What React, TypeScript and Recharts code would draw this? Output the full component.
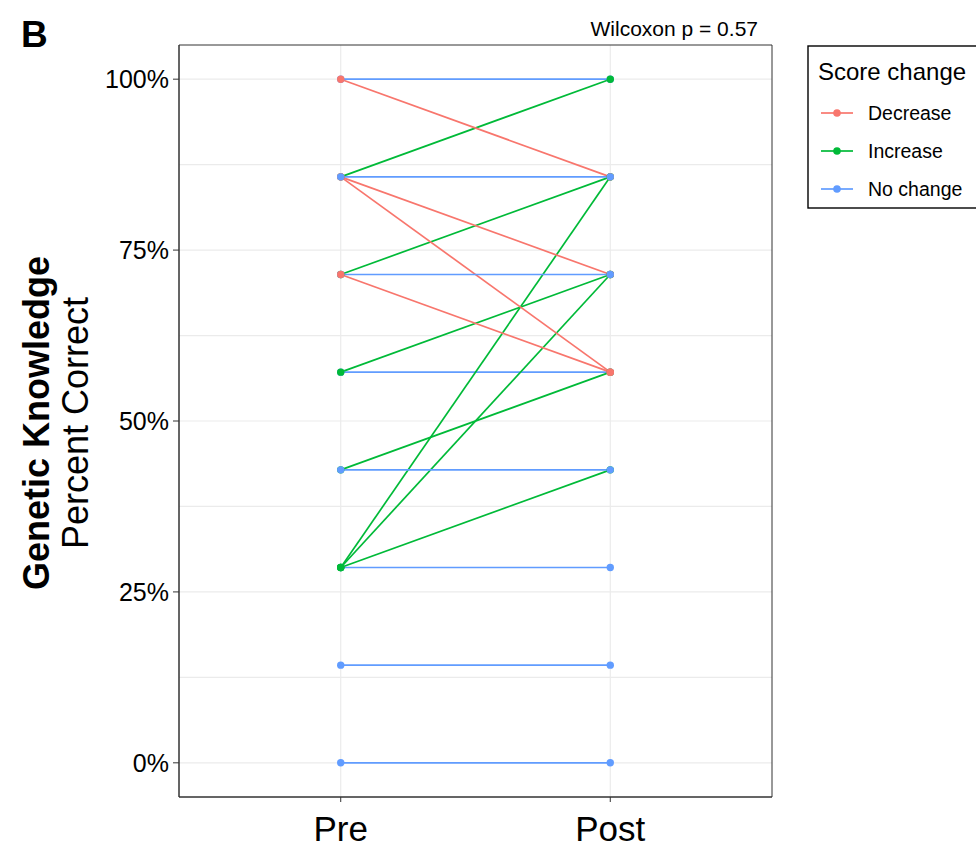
import { LineChart, Line, XAxis, YAxis, CartesianGrid, ReferenceArea } from 'recharts'

// Items answered correctly (out of 7) per participant path, Pre -> Post
const TOTAL_ITEMS = 7
const phaseLabels = ['Pre', 'Post']
const preCorrect = [7, 2, 4, 0, 1, 2, 2, 2, 3, 4, 6, 5, 7, 6, 6, 3, 5, 6, 5]
const postCorrect = [7, 2, 4, 0, 1, 3, 5, 6, 4, 5, 7, 6, 6, 5, 4, 3, 5, 6, 4]

const changeLabels = ['Decrease', 'Increase', 'No change']
const changeColors = ['#F8766D', '#00BA38', '#619CFF']

const yTicks = [0, 25, 50, 75, 100]
const yGrid = [0, 12.5, 25, 37.5, 50, 62.5, 75, 87.5, 100]
const pValueText = 'Wilcoxon p = 0.57'

const toPct = (n: number) => (n / TOTAL_ITEMS) * 100
const changeOf = (pre: number, post: number) => (post < pre ? 0 : post > pre ? 1 : 2)

const paths = preCorrect.map((pre, i) => {
  const post = postCorrect[i]
  return {
    id: `p${i}`,
    group: changeOf(pre, post),
    data: [
      { phase: 1, pct: toPct(pre) },
      { phase: 2, pct: toPct(post) },
    ],
  }
})

const FONT = '"Liberation Sans", Arial, Helvetica, sans-serif'

function YTitle() {
  return (
    <g>
      <text
        x={49}
        y={423}
        transform="rotate(-90 49 423)"
        textAnchor="middle"
        fontSize={36}
        fontWeight="bold"
        fill="#000"
      >
        Genetic Knowledge
      </text>
      <text
        x={88}
        y={423}
        transform="rotate(-90 88 423)"
        textAnchor="middle"
        fontSize={36}
        fill="#000"
      >
        Percent Correct
      </text>
    </g>
  )
}

export default function App() {
  return (
    <div
      style={{
        position: 'absolute',
        left: 0,
        top: 0,
        width: 976,
        height: 850,
        background: '#fff',
        fontFamily: FONT,
        overflow: 'hidden',
      }}
    >
      <LineChart
        width={976}
        height={850}
        margin={{ top: 45, right: 204, bottom: 0, left: 100 }}
      >
        <CartesianGrid
          stroke="#EBEBEB"
          strokeWidth={1.2}
          horizontalValues={yGrid}
          verticalValues={[1, 2]}
        />
        <XAxis
          dataKey="phase"
          type="number"
          domain={[0.4, 2.6]}
          ticks={[1, 2]}
          interval={0}
          allowDataOverflow
          tickFormatter={(v: number) => phaseLabels[v - 1]}
          height={53}
          tickSize={5}
          tickMargin={14}
          axisLine={{ stroke: '#333' }}
          tickLine={{ stroke: '#333' }}
          tick={{ fontSize: 35, fill: '#000' }}
        />
        <YAxis
          type="number"
          domain={[-5, 105]}
          ticks={yTicks}
          allowDataOverflow
          tickFormatter={(v: number) => `${v}%`}
          width={79}
          tickSize={6}
          tickMargin={4}
          axisLine={{ stroke: '#333' }}
          tickLine={{ stroke: '#333' }}
          tick={{ fontSize: 25, fill: '#000' }}
          label={{ content: () => <YTitle /> }}
        />
        <ReferenceArea
          x1={0.4}
          x2={2.6}
          y1={-5}
          y2={105}
          fill="none"
          stroke="#333"
          strokeWidth={1}
          ifOverflow="visible"
        />
        {paths.map((p) => (
          <Line
            key={p.id}
            data={p.data}
            dataKey="pct"
            type="linear"
            stroke={changeColors[p.group]}
            strokeWidth={1.7}
            dot={{ r: 3.7, fill: changeColors[p.group], stroke: 'none', strokeWidth: 0 }}
            activeDot={false}
            isAnimationActive={false}
            legendType="none"
          />
        ))}
      </LineChart>

      <svg
        width={976}
        height={850}
        style={{ position: 'absolute', left: 0, top: 0, pointerEvents: 'none' }}
      >
        <text x={21} y={47} fontSize={37} fontWeight="bold" fill="#000">
          B
        </text>
        <text x={758} y={36} fontSize={21} textAnchor="end" fill="#000">
          {pValueText}
        </text>
        <rect x={808} y={46} width={200} height={162} fill="#fff" stroke="#000" strokeWidth={1.4} />
        <text x={818} y={80} fontSize={24} fill="#000">
          Score change
        </text>
        {changeLabels.map((label, i) => {
          const cy = 113 + i * 38
          return (
            <g key={label}>
              <line x1={821} x2={853} y1={cy} y2={cy} stroke={changeColors[i]} strokeWidth={1.7} />
              <circle cx={837} cy={cy} r={3.8} fill={changeColors[i]} />
              <text x={868} y={cy + 7} fontSize={19.5} fill="#000">
                {label}
              </text>
            </g>
          )
        })}
      </svg>
    </div>
  )
}
